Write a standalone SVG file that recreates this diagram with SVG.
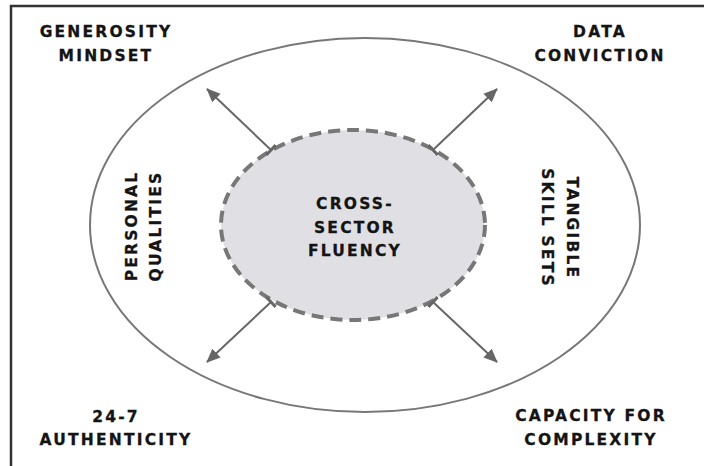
<svg xmlns="http://www.w3.org/2000/svg" width="704" height="466" viewBox="0 0 704 466">
  <style>
    .lbl { font-family: "DejaVu Sans", "Liberation Sans", sans-serif; font-weight: bold; font-size: 15.5px; letter-spacing: 2.2px; fill: #141414; stroke: #141414; stroke-width: 0.3; text-anchor: middle; }
    .frame { stroke: #333; stroke-width: 2.5; fill: none; }
    .outer { fill: none; stroke: #777; stroke-width: 2; }
    .core { fill: #e0e0e4; stroke: #777; stroke-width: 4; stroke-dasharray: 12 7; }
    .arrow { stroke: #666; stroke-width: 2; fill: none; marker-start: url(#tee); marker-end: url(#head); }
  </style>
  <defs>
    <marker id="head" markerUnits="userSpaceOnUse" viewBox="0 0 14 14" markerWidth="14" markerHeight="14" refX="13" refY="7" orient="auto">
      <path d="M0,1 L14,7 L0,13 z" fill="#666"/>
    </marker>
    <marker id="tee" markerUnits="userSpaceOnUse" viewBox="0 0 4 14" markerWidth="4" markerHeight="14" refX="2" refY="7" orient="auto">
      <path d="M2,0 V14" stroke="#666" stroke-width="3"/>
    </marker>
  </defs>

  <rect width="704" height="466" fill="#fff"/>
  <!-- open frame: top and left edges only -->
  <path class="frame" d="M11,466 V6 H704"/>

  <g id="outer-ring">
    <ellipse class="outer" cx="365" cy="225" rx="275" ry="187"/>
  </g>

  <g id="cross-sector-fluency">
    <ellipse class="core" cx="353" cy="225" rx="132" ry="95"/>
    <text class="lbl" x="355" y="209">CROSS-</text>
    <text class="lbl" x="355" y="233">SECTOR</text>
    <text class="lbl" x="355" y="256">FLUENCY</text>
  </g>

  <g id="connectors">
    <line class="arrow" x1="271" y1="150" x2="207" y2="89"/>
    <line class="arrow" x1="433" y1="150" x2="497" y2="89"/>
    <line class="arrow" x1="271" y1="302" x2="207" y2="362"/>
    <line class="arrow" x1="433" y1="302" x2="497" y2="362"/>
  </g>

  <g id="personal-qualities">
    <text class="lbl" transform="translate(137,226) rotate(-90)">PERSONAL</text>
    <text class="lbl" transform="translate(161,226) rotate(-90)">QUALITIES</text>
  </g>

  <g id="tangible-skill-sets">
    <text class="lbl" transform="translate(567,228) rotate(90)">TANGIBLE</text>
    <text class="lbl" transform="translate(542,228) rotate(90)">SKILL SETS</text>
  </g>

  <g id="generosity-mindset">
    <text class="lbl" x="106" y="37">GENEROSITY</text>
    <text class="lbl" x="106" y="61">MINDSET</text>
  </g>

  <g id="data-conviction">
    <text class="lbl" x="600" y="37">DATA</text>
    <text class="lbl" x="600" y="61">CONVICTION</text>
  </g>

  <g id="authenticity">
    <text class="lbl" x="116" y="422">24-7</text>
    <text class="lbl" x="116" y="445">AUTHENTICITY</text>
  </g>

  <g id="capacity-for-complexity">
    <text class="lbl" x="591" y="421">CAPACITY FOR</text>
    <text class="lbl" x="591" y="445">COMPLEXITY</text>
  </g>
</svg>
